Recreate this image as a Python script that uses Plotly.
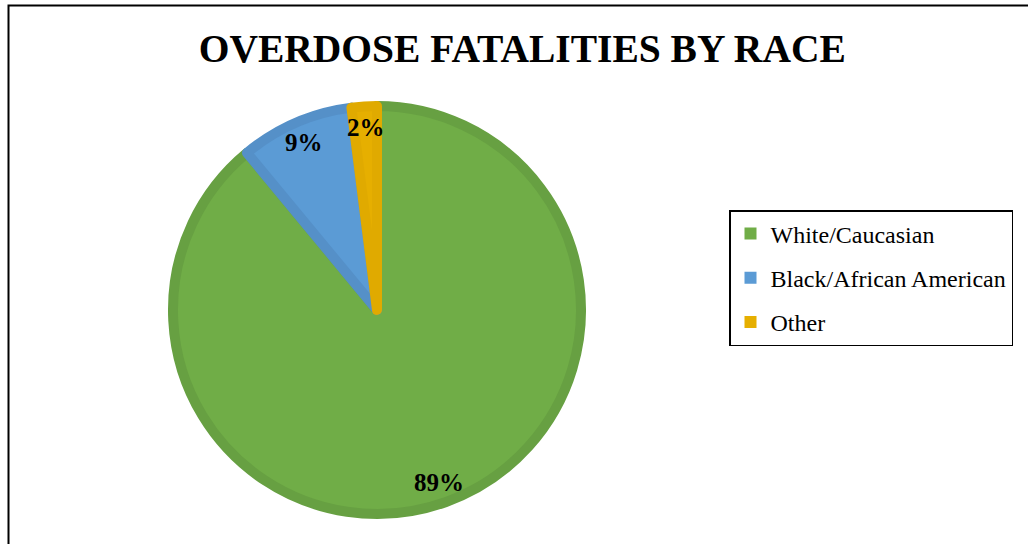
import math
import plotly.graph_objects as go

labels = ["White/Caucasian", "Black/African American", "Other"]
values = [89, 9, 2]
fill_colors = ["#70AD47", "#5B9BD5", "#E6AF00"]
border_colors = ["#67A042", "#5590C8", "#E0AA00"]
title_text = "OVERDOSE FATALITIES BY RACE"

W, H = 1028, 544
FONT = "Liberation Serif, Times New Roman, serif"

fig = go.Figure()

# pie geometry (pixels -> paper)
cx, cy, r = 377, 310, 204
fig.add_trace(go.Pie(
    labels=labels,
    values=values,
    sort=False,
    direction="clockwise",
    rotation=0,
    marker=dict(colors=fill_colors, line=dict(color=border_colors, width=10)),
    textinfo="none",
    showlegend=False,
    hoverinfo="label+percent",
    domain=dict(x=[(cx - r) / W, (cx + r) / W], y=[1 - (cy + r) / H, 1 - (cy - r) / H]),
))

# percentage labels placed near the outer part of each slice (derived from the values)
total = sum(values)
annotations = []
cum = 0.0
label_r = 183
for v in values:
    mid = (cum + v / 2) / total
    cum += v
    theta = 2 * math.pi * mid
    px = cx + label_r * math.sin(theta)
    py = cy - label_r * math.cos(theta)
    annotations.append(dict(
        x=px / W, y=1 - py / H, xref="paper", yref="paper",
        text=f"{round(100 * v / total)}%", showarrow=False,
        xanchor="center", yanchor="middle",
        font=dict(family=FONT, size=25, color="black", weight="bold"),
    ))

# legend entries
for lab, col in zip(labels, fill_colors):
    fig.add_trace(go.Scatter(
        x=[None], y=[None], mode="markers", name=lab, legendgroup=lab,
        marker=dict(symbol="square", size=12, color=col),
        showlegend=True,
    ))

fig.update_layout(
    width=W, height=H,
    margin=dict(l=0, r=0, t=0, b=0),
    paper_bgcolor="white", plot_bgcolor="white",
    xaxis=dict(visible=False), yaxis=dict(visible=False),
    annotations=annotations,
    title=dict(
        text=title_text, x=0.508, xanchor="center", y=1 - 48 / H, yanchor="middle",
        font=dict(family=FONT, size=39.5, color="black", weight="bold"),
    ),
    legend=dict(
        x=729 / W, xanchor="left", y=1 - 210 / H, yanchor="top",
        bordercolor="black", borderwidth=1.5, bgcolor="white",
        font=dict(family=FONT, size=24, color="black"),
        tracegroupgap=10,
        itemclick=False,
    ),
    shapes=[dict(
        type="rect", xref="paper", yref="paper",
        x0=8.5 / W, x1=1.02, y0=-0.02, y1=1 - 5.5 / H,
        line=dict(color="black", width=2), fillcolor="rgba(0,0,0,0)", layer="above",
    )],
)

fig.write_html("out.html")
